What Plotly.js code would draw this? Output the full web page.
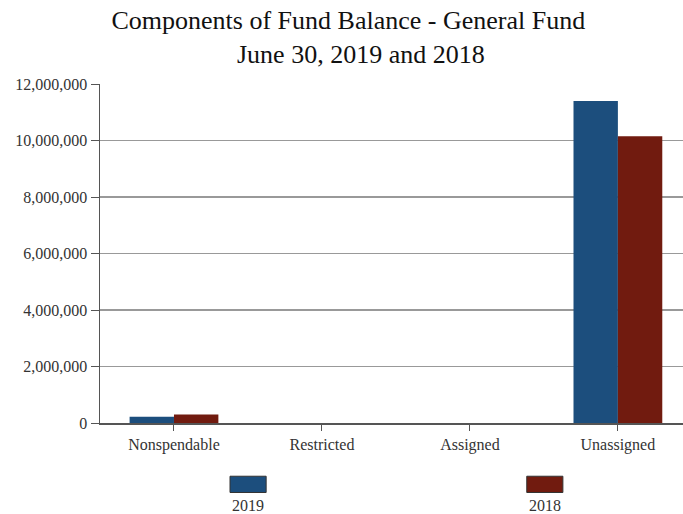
<!DOCTYPE html>
<html>
<head>
<meta charset="utf-8">
<script src="https://cdn.plot.ly/plotly-3.0.1.min.js"></script>
<style>html,body{margin:0;padding:0;background:#fff;}#chart{width:683px;height:514px;}</style>
</head>
<body>
<div id="chart"></div>
<script>
var categories = ["Nonspendable", "Restricted", "Assigned", "Unassigned"];
var seriesNames = ["2019", "2018"];
var values2019 = [220000, 0, 0, 11400000];
var values2018 = [300000, 0, 0, 10150000];
var yTicks = [0, 2000000, 4000000, 6000000, 8000000, 10000000, 12000000];
var yTickLabels = ["0", "2,000,000", "4,000,000", "6,000,000", "8,000,000", "10,000,000", "12,000,000"];
var titleLines = ["Components of Fund Balance - General Fund", "June 30, 2019 and 2018"];

var colors = ["#1c4e7d", "#711b0f"];
var serif = "'Liberation Serif', 'Times New Roman', Times, serif";
var txt = "#333";

var traces = [values2019, values2018].map(function (vals, i) {
  return {
    type: "bar", x: categories, y: vals, name: seriesNames[i],
    marker: {color: colors[i], line: {color: colors[i], width: 0}},
    showlegend: false, hoverinfo: "x+y"
  };
});

var legendX = [0.254, 0.763];
var shapes = [], annotations = [];
legendX.forEach(function (lx, i) {
  shapes.push({type: "rect", xref: "paper", yref: "paper",
    x0: lx - 0.031, x1: lx + 0.031, y0: -0.205, y1: -0.157,
    fillcolor: colors[i], line: {color: "#333", width: 1}});
  annotations.push({xref: "paper", yref: "paper", x: lx, y: -0.243,
    text: seriesNames[i], showarrow: false, xanchor: "center", yanchor: "middle",
    font: {family: serif, size: 16, color: txt}});
});
annotations.push({xref: "paper", yref: "paper", x: 0.448, y: 1.088,
  text: titleLines[1], showarrow: false, xanchor: "center", yanchor: "middle",
  font: {family: serif, size: 26, color: "#111"}});

var layout = {
  width: 683, height: 514,
  margin: {l: 100, r: 0, t: 84, b: 91},
  paper_bgcolor: "#fff", plot_bgcolor: "#fff",
  title: {text: titleLines[0],
    font: {family: serif, size: 26, color: "#111"}, x: 0.51, xanchor: "center",
    yref: "container", y: 0.962, yanchor: "middle"},
  barmode: "group", bargap: 0.4, bargroupgap: 0,
  xaxis: {type: "category", range: [-0.5, 3.44], showline: true, linecolor: "#555", linewidth: 1.5,
    ticks: "outside", ticklen: 6, tickcolor: "#555", showgrid: false,
    tickfont: {family: serif, size: 16, color: txt}},
  yaxis: {range: [0, 12000000], tickvals: yTicks, ticktext: yTickLabels,
    showline: true, linecolor: "#555", linewidth: 1.5, ticks: "outside", ticklen: 8, tickcolor: "#555",
    showgrid: true, gridcolor: "#999", gridwidth: 1.5, zeroline: false,
    tickfont: {family: serif, size: 16, color: txt}},
  shapes: shapes, annotations: annotations
};

Plotly.newPlot("chart", traces, layout, {displayModeBar: false, staticPlot: true});
</script>
</body>
</html>
